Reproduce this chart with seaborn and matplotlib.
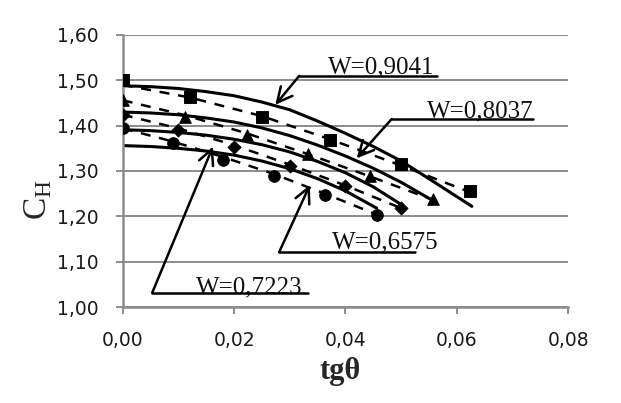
import matplotlib
matplotlib.use('Agg')
import matplotlib.pyplot as plt
import seaborn as sns

# Theoretical curves (solid lines)
x_s1 = [0, 0.005, 0.01, 0.015, 0.02, 0.025, 0.03, 0.035, 0.04, 0.045, 0.05, 0.056, 0.0627]
y_s1 = [1.488, 1.486, 1.482, 1.475, 1.466, 1.452, 1.435, 1.41, 1.383, 1.354, 1.322, 1.275, 1.222]
x_s2 = [0, 0.005, 0.01, 0.015, 0.02, 0.025, 0.03, 0.035, 0.04, 0.045, 0.05, 0.0555]
y_s2 = [1.430, 1.428, 1.424, 1.417, 1.408, 1.395, 1.378, 1.357, 1.333, 1.306, 1.275, 1.236]
x_s3 = [0, 0.005, 0.01, 0.015, 0.02, 0.025, 0.03, 0.035, 0.04, 0.045, 0.05]
y_s3 = [1.391, 1.389, 1.385, 1.379, 1.370, 1.358, 1.342, 1.321, 1.296, 1.265, 1.226]
x_s4 = [0, 0.005, 0.01, 0.015, 0.02, 0.025, 0.03, 0.035, 0.04, 0.0456]
y_s4 = [1.356, 1.354, 1.350, 1.344, 1.335, 1.322, 1.305, 1.283, 1.256, 1.218]

# Experimental points (markers)
x_sq = [0, 0.0121, 0.025, 0.0372, 0.050, 0.0624]
y_sq = [1.500, 1.4625, 1.419, 1.369, 1.316, 1.255]
x_tri = [0, 0.0112, 0.0223, 0.0333, 0.0444, 0.0558]
y_tri = [1.457, 1.420, 1.380, 1.338, 1.288, 1.238]
x_dia = [0, 0.010, 0.020, 0.030, 0.040, 0.050]
y_dia = [1.424, 1.390, 1.354, 1.312, 1.268, 1.218]
x_circ = [0, 0.009, 0.018, 0.0272, 0.0363, 0.0456]
y_circ = [1.395, 1.362, 1.325, 1.288, 1.248, 1.2035]

# Trend lines (dashed)
y_sq_tr = [1.490, 1.462, 1.421, 1.370, 1.312, 1.253]
y_tri_tr = [1.456, 1.423, 1.383, 1.337, 1.288, 1.236]
y_dia_tr = [1.424, 1.394, 1.357, 1.314, 1.268, 1.218]
y_circ_tr = [1.394, 1.365, 1.331, 1.293, 1.250, 1.204]

# Labels: text, text position, underline, arrow tip
labels = ['W=0,9041', 'W=0,8037', 'W=0,6575', 'W=0,7223']
text_xy = [(0.0369, 1.5157), (0.0546, 1.4176), (0.0375, 1.1294), (0.0132, 1.030)]
line_x = [(0.0317, 0.0564), (0.0483, 0.0737), (0.0281, 0.0525), (0.0053, 0.0333)]
line_y = [1.510, 1.4147, 1.1213, 1.0315]
tips = [(0.0274, 1.446), (0.0420, 1.328), (0.0336, 1.269), (0.0162, 1.3536)]

sns.set_theme(style='white')
plt.rcParams['font.family'] = ['DejaVu Sans']

fig = plt.figure(figsize=(6.21, 4.03), dpi=100)
ax = fig.add_axes([0.1976, 0.2382, 0.9151 - 0.1976, 0.9132 - 0.2382])

grid_col = '#8c8c8c'

# Solid curves
for xs, ys in [(x_s1, y_s1), (x_s2, y_s2), (x_s3, y_s3), (x_s4, y_s4)]:
    sns.lineplot(x=xs, y=ys, ax=ax, color='black', linewidth=2.2, sort=False, estimator=None)

# Dashed trend lines
for xs, ys in [(x_sq, y_sq_tr), (x_tri, y_tri_tr), (x_dia, y_dia_tr), (x_circ, y_circ_tr)]:
    sns.lineplot(x=xs, y=ys, ax=ax, color='black', linewidth=1.8, sort=False, estimator=None,
                 linestyle=(0, (4, 3.5)))

# Markers
sns.scatterplot(x=x_sq, y=y_sq, ax=ax, marker='s', s=70, color='black', edgecolor='black', zorder=5)
sns.scatterplot(x=x_tri, y=y_tri, ax=ax, marker='^', s=70, color='black', edgecolor='black', zorder=5)
sns.scatterplot(x=x_dia, y=y_dia, ax=ax, marker='D', s=45, color='black', edgecolor='black', zorder=5)
sns.scatterplot(x=x_circ, y=y_circ, ax=ax, marker='o', s=70, color='black', edgecolor='black', zorder=5)

# Annotations
for lab, (tx, ty), (lx0, lx1), ly, tip in zip(labels, text_xy, line_x, line_y, tips):
    ax.text(tx, ty, lab, ha='left', va='baseline', fontsize=18,
            family=['Liberation Serif'], color='#111111', zorder=6)
    ax.plot([lx0, lx1], [ly, ly], color='black', linewidth=1.8, zorder=6)
    ax.annotate('', xy=tip, xytext=(lx0, ly),
                arrowprops=dict(arrowstyle='->,head_length=0.9,head_width=0.45',
                                lw=1.8, color='black', shrinkA=0, shrinkB=0),
                zorder=6)

ax.set_xlim(0, 0.08)
ax.set_ylim(1.0, 1.6)
ax.set_xticks([0, 0.02, 0.04, 0.06, 0.08])
ax.set_xticklabels(['0,00', '0,02', '0,04', '0,06', '0,08'])
ax.set_yticks([1.0, 1.1, 1.2, 1.3, 1.4, 1.5, 1.6])
ax.set_yticklabels(['1,00', '1,10', '1,20', '1,30', '1,40', '1,50', '1,60'])
ax.yaxis.grid(True, color=grid_col, linewidth=1.4)
ax.xaxis.grid(False)
ax.set_axisbelow(True)
for side in ['top', 'right']:
    ax.spines[side].set_visible(False)
for side in ['left', 'bottom']:
    ax.spines[side].set_color(grid_col)
    ax.spines[side].set_linewidth(1.8)
ax.tick_params(axis='both', which='major', direction='out', length=5, width=1.4,
               color=grid_col, labelsize=13.5, labelcolor='#1a1a1a', left=True, bottom=True)
ax.tick_params(axis='y', pad=12)
ax.tick_params(axis='x', pad=12)

ax.set_xlabel('')
ax.set_ylabel('')
fig.text(340 / 621, 1 - 371 / 403, 'tgθ', ha='center', va='center', fontsize=22,
         fontweight='bold', family=['Liberation Serif'])
fig.text(38 / 621, 1 - 200 / 403, r'C$_\mathregular{H}$', ha='center', va='center', fontsize=24,
         rotation=90, family=['Liberation Serif'])

fig.savefig('out.png', dpi=100)
